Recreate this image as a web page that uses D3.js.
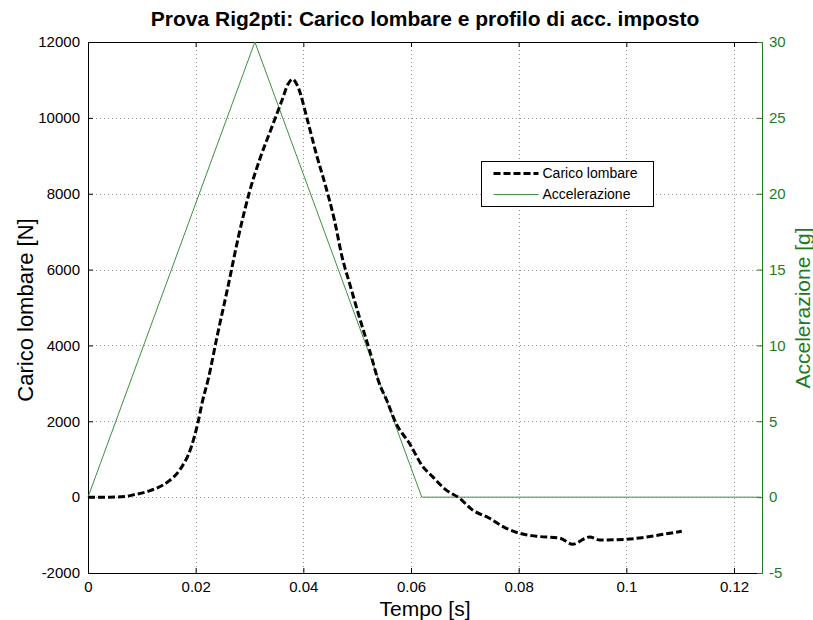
<!DOCTYPE html>
<html>
<head>
<meta charset="utf-8">
<script src="https://cdn.jsdelivr.net/npm/d3@7"></script>
<style>
  body { margin: 0; background: #fff; }
  svg { font-family: "Liberation Sans", Arial, sans-serif; }
</style>
</head>
<body>
<div id="chart"></div>
<script>
// Prova Rig2pti - carico lombare vs accelerazione imposta

const width = 813;
const height = 620;
const margin = { top: 42, right: 51, bottom: 47, left: 88 };

// carico lombare [N] vs tempo [s]
const loadTime = [0, 0.004, 0.007, 0.0084, 0.0115, 0.0147, 0.0172, 0.0191, 0.0204, 0.0213, 0.0223,
  0.024, 0.026, 0.028, 0.030, 0.032, 0.034, 0.036, 0.0372, 0.0380, 0.0389, 0.0408, 0.0424,
  0.0442, 0.0458, 0.0472, 0.0486, 0.0504, 0.0523, 0.0541, 0.0555, 0.0572, 0.0597, 0.0622, 0.064,
  0.0665, 0.069, 0.0714, 0.0745, 0.0776, 0.0801, 0.0833, 0.0876, 0.0900, 0.0932, 0.0951, 0.1001,
  0.1038, 0.1081, 0.1103];
const loadValue = [0, 0, 20, 60, 170, 390, 750, 1290, 1950, 2550, 3090,
  4250, 5550, 6900, 8050, 8950, 9700, 10450, 10900, 11020, 10850, 9920, 9050,
  8170, 7290, 6330, 5630, 4750, 3870, 3000, 2550, 1950, 1420, 805, 540,
  190, -26, -335, -550, -815, -950, -1030, -1080, -1240, -1050, -1130, -1110,
  -1050, -950, -900];

// accelerazione imposta [g]
const accTime = [0, 0.031, 0.062, 0.125];
const accValue = [0, 30, 0, 0];

const xTicks = [0, 0.02, 0.04, 0.06, 0.08, 0.1, 0.12];
const yTicks = [-2000, 0, 2000, 4000, 6000, 8000, 10000, 12000];
const y2Ticks = [-5, 0, 5, 10, 15, 20, 25, 30];

const green = '#1f7a1f';
const accColor = '#3f8f3f';

const svg = d3.select('#chart').append('svg')
  .attr('width', width)
  .attr('height', height);

const x = d3.scaleLinear().domain([0, 0.1252]).range([margin.left, width - margin.right]);
const y = d3.scaleLinear().domain([-2000, 12000]).range([height - margin.bottom, margin.top]);
const y2 = d3.scaleLinear().domain([-5, 30]).range([height - margin.bottom, margin.top]);

const midX = (margin.left + width - margin.right) / 2;

// grid
const grid = svg.append('g')
  .attr('stroke', '#999')
  .attr('stroke-width', 1)
  .attr('stroke-dasharray', '1,3');
grid.selectAll('.gx').data(xTicks.filter(d => d > 0)).enter().append('line')
  .attr('x1', d => Math.round(x(d)) + 0.5).attr('x2', d => Math.round(x(d)) + 0.5)
  .attr('y1', margin.top).attr('y2', height - margin.bottom);
grid.selectAll('.gy').data(yTicks.filter(d => d > -2000 && d < 12000)).enter().append('line')
  .attr('y1', d => Math.round(y(d)) + 0.5).attr('y2', d => Math.round(y(d)) + 0.5)
  .attr('x1', margin.left).attr('x2', width - margin.right);

// top border
svg.append('line')
  .attr('x1', margin.left).attr('x2', width - margin.right)
  .attr('y1', margin.top + 0.5).attr('y2', margin.top + 0.5)
  .attr('stroke', '#000');

// axes, ticks inward as in MATLAB
const fmtX = d => d === 0 ? '0' : String(+d.toFixed(2));
const fmtY = d => String(d);
const xAxis = svg.append('g')
  .attr('transform', `translate(0,${height - margin.bottom})`)
  .call(d3.axisBottom(x).tickValues(xTicks).tickFormat(fmtX).tickSizeInner(-5).tickSizeOuter(0).tickPadding(8));
const xAxisTop = svg.append('g')
  .attr('transform', `translate(0,${margin.top})`)
  .call(d3.axisTop(x).tickValues(xTicks).tickFormat('').tickSizeInner(-5).tickSizeOuter(0));
const yAxis = svg.append('g')
  .attr('transform', `translate(${margin.left},0)`)
  .call(d3.axisLeft(y).tickValues(yTicks).tickFormat(fmtY).tickSizeInner(-5).tickSizeOuter(0).tickPadding(8));
const y2Axis = svg.append('g')
  .attr('transform', `translate(${width - margin.right},0)`)
  .call(d3.axisRight(y2).tickValues(y2Ticks).tickFormat(fmtY).tickSizeInner(-5).tickSizeOuter(0).tickPadding(7));

[xAxis, xAxisTop, yAxis].forEach(a => {
  a.select('.domain').attr('stroke', '#000');
  a.selectAll('.tick line').attr('stroke', '#000');
  a.selectAll('text').attr('fill', '#000').attr('font-size', 15).attr('font-family', 'Liberation Sans, Arial, sans-serif');
});
y2Axis.select('.domain').attr('stroke', green);
y2Axis.selectAll('.tick line').attr('stroke', green);
y2Axis.selectAll('text').attr('fill', green).attr('font-size', 15).attr('font-family', 'Liberation Sans, Arial, sans-serif');

// lines
const accLine = d3.line().x(d => x(d[0])).y(d => y2(d[1]));
svg.append('path')
  .datum(d3.zip(accTime, accValue))
  .attr('d', accLine)
  .attr('fill', 'none')
  .attr('stroke', accColor)
  .attr('stroke-width', 1);

const loadLine = d3.line().x(d => x(d[0])).y(d => y(d[1])).curve(d3.curveMonotoneX);
svg.append('path')
  .datum(d3.zip(loadTime, loadValue))
  .attr('d', loadLine)
  .attr('fill', 'none')
  .attr('stroke', '#000')
  .attr('stroke-width', 3)
  .attr('stroke-dasharray', '7,3');

// legend
const lg = svg.append('g').attr('transform', 'translate(481.5,161.5)');
lg.append('rect').attr('width', 172).attr('height', 45)
  .attr('fill', '#fff').attr('stroke', '#000');
const items = [
  { label: 'Carico lombare', color: '#000', w: 3, dash: '7,3' },
  { label: 'Accelerazione', color: accColor, w: 1, dash: null }
];
items.forEach((it, i) => {
  const yy = 12 + i * 21;
  lg.append('line').attr('x1', 12).attr('x2', 57).attr('y1', yy).attr('y2', yy)
    .attr('stroke', it.color).attr('stroke-width', it.w).attr('stroke-dasharray', it.dash);
  lg.append('text').attr('x', 61).attr('y', yy).attr('dy', '0.35em')
    .attr('font-size', 14).text(it.label);
});

// titles
svg.append('text')
  .attr('x', midX).attr('y', 26)
  .attr('text-anchor', 'middle').attr('font-weight', 'bold').attr('font-size', 21)
  .text('Prova Rig2pti: Carico lombare e profilo di acc. imposto');
svg.append('text')
  .attr('x', midX).attr('y', 616)
  .attr('text-anchor', 'middle').attr('font-size', 21)
  .text('Tempo [s]');
svg.append('text')
  .attr('transform', `translate(33,310) rotate(-90)`)
  .attr('text-anchor', 'middle').attr('font-size', 22)
  .text('Carico lombare [N]');
svg.append('text')
  .attr('transform', `translate(810,308) rotate(-90)`)
  .attr('text-anchor', 'middle').attr('font-size', 21).attr('fill', green)
  .text('Accelerazione [g]');
</script>
</body>
</html>
